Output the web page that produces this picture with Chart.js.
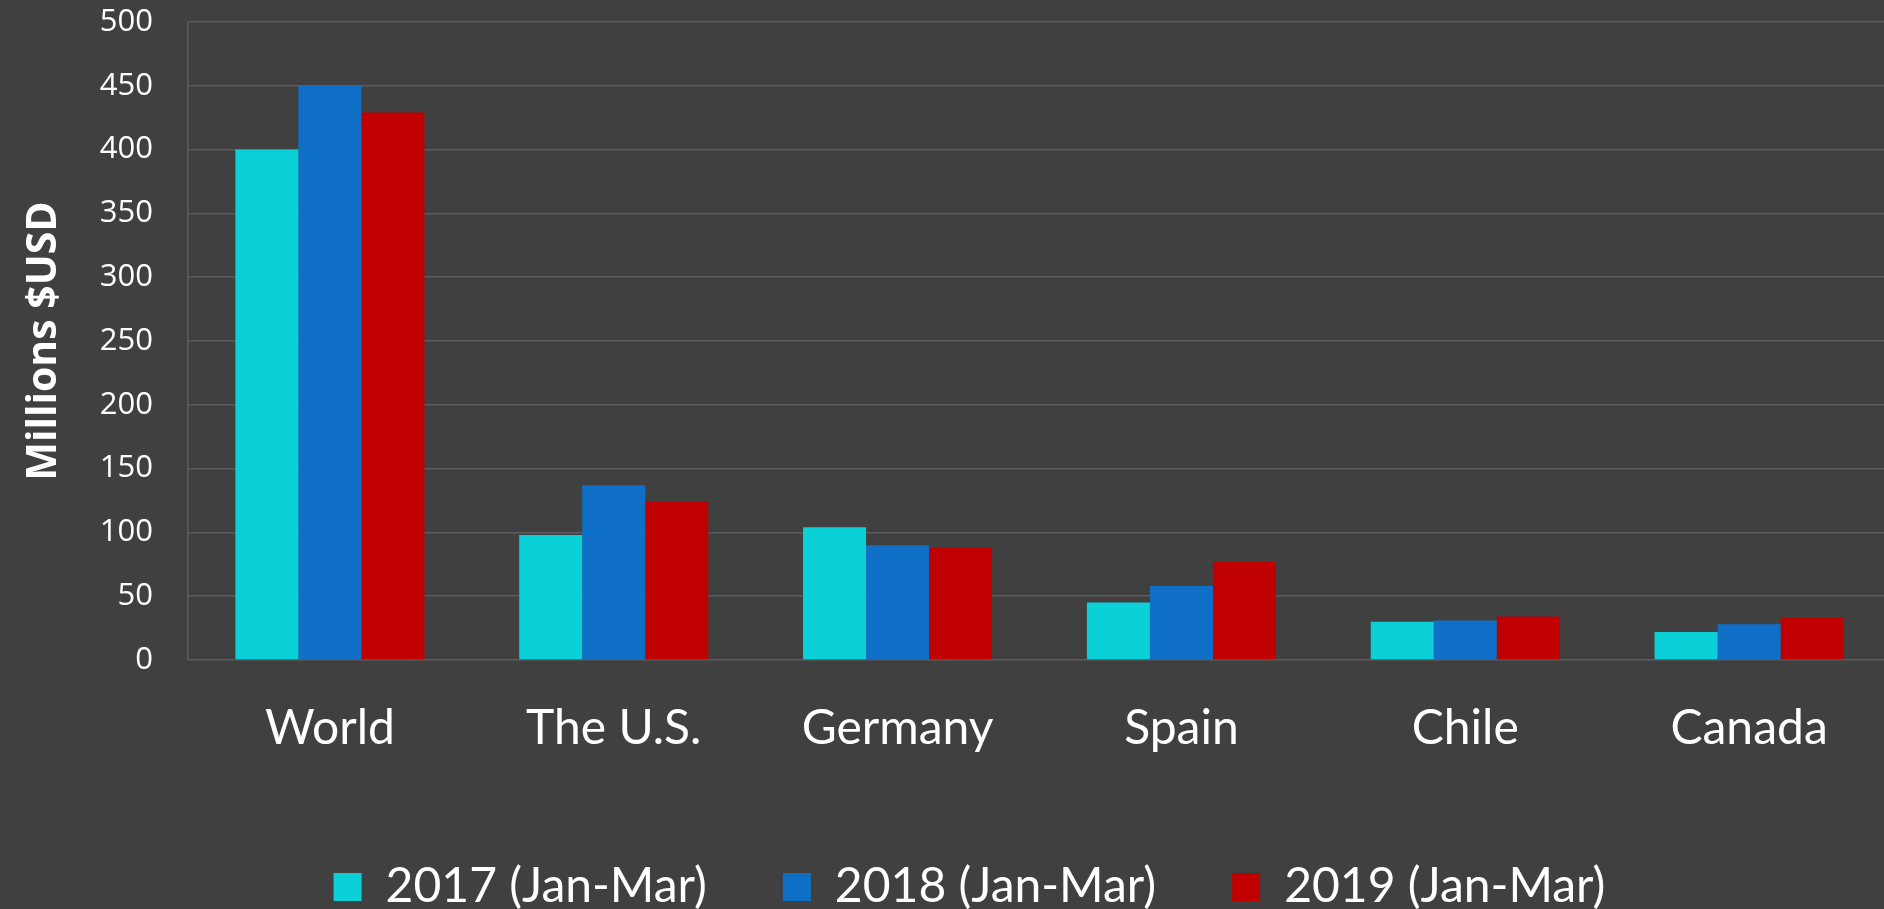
<!DOCTYPE html>
<html lang="en">
  <head>
    <meta charset="UTF-8" />
    <script src="https://cdn.jsdelivr.net/npm/chart.js@4.4.1/dist/chart.umd.min.js"></script>
    <title>Millions $USD by country</title>
    <style>
      html, body { margin: 0; padding: 0; background: #404040; overflow: hidden; }
      #wrap { width: 1891px; height: 909px; }
    </style>
  </head>
  <body>
    <div id="wrap"><canvas id="myChart" width="1891" height="909"></canvas></div>

    <script>
      // data
      var countries = ['World', 'The U.S.', 'Germany', 'Spain', 'Chile', 'Canada'];
      var seriesNames = ['2017 (Jan-Mar)', '2018 (Jan-Mar)', '2019 (Jan-Mar)'];
      var y2017 = [400, 98, 104, 45, 30, 22];
      var y2018 = [450, 137, 90, 58, 31, 28];
      var y2019 = [429, 124, 88, 77, 34, 33];
      var yTicks = [0, 50, 100, 150, 200, 250, 300, 350, 400, 450, 500];

      var colors = ['#0CD0D8', '#0F6FC6', '#C00000'];
      var white = '#FFFFFF';
      var gridColor = '#5c5c5c';

      // legend: wide gaps between items but a short box, nudged right like the original
      var legendTweak = {
        id: 'legendTweak',
        beforeLayout: function (chart) {
          var lg = chart.legend;
          if (lg && !lg._tweaked) {
            var fit = lg.fit;
            lg.fit = function () { fit.call(this); this.height = 122; };
            lg._tweaked = true;
          }
        },
        afterLayout: function (chart) {
          chart.legend.left += 24;
          chart.legend.right += 24;
        }
      };

      var ctx = document.getElementById('myChart').getContext('2d');
      var myChart = new Chart(ctx, {
        type: 'bar',
        data: {
          labels: countries,
          datasets: [y2017, y2018, y2019].map(function (d, i) {
            return {
              label: seriesNames[i],
              data: d,
              backgroundColor: colors[i],
              borderWidth: 0,
              barPercentage: 1,
              categoryPercentage: 0.666
            };
          })
        },
        options: {
          responsive: false,
          animation: false,
          layout: { padding: { top: 22, left: 0, right: 0, bottom: 0 } },
          plugins: {
            tooltip: { enabled: false },
            legend: {
              position: 'bottom',
              labels: {
                color: white,
                font: { family: 'Lato', size: 48 },
                boxWidth: 28,
                boxHeight: 28,
                padding: 76
              }
            }
          },
          scales: {
            x: {
              grid: { display: false, drawTicks: false },
              border: { display: false },
              ticks: {
                color: white,
                font: { family: 'Lato', size: 48 },
                padding: 40,
                maxRotation: 0
              },
              afterFit: function (scale) { scale.height = 127; }
            },
            y: {
              min: 0,
              max: 500,
              afterBuildTicks: function (scale) {
                scale.ticks = yTicks.map(function (v) { return { value: v }; });
              },
              grid: { color: gridColor, lineWidth: 1.5, drawTicks: true, tickLength: 33, tickColor: 'rgba(0,0,0,0)' },
              border: { display: true, color: gridColor, width: 1.5 },
              ticks: {
                color: white,
                font: { family: 'Open Sans', size: 31 },
                padding: 2
              },
              title: {
                display: true,
                text: 'Millions $USD',
                color: white,
                font: { family: 'Open Sans', size: 41, weight: 'bold' },
                padding: { top: 20, bottom: 0 }
              },
              afterFit: function (scale) { scale.width = 188; }
            }
          }
        },
        plugins: [legendTweak]
      });
    </script>
  </body>
</html>
